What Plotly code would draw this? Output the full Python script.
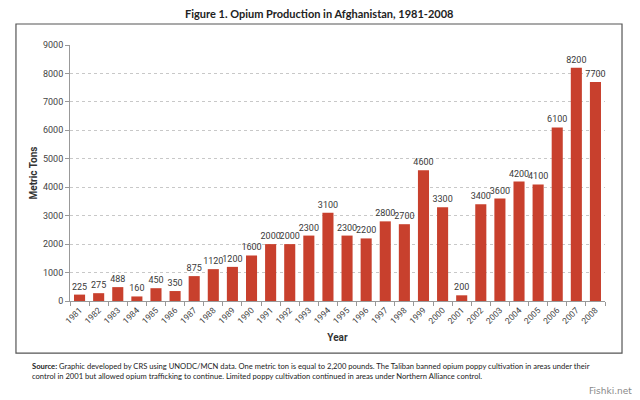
import plotly.graph_objects as go

years = [str(y) for y in range(1981, 2009)]
values = [225, 275, 488, 160, 450, 350, 875, 1120, 1200, 1600, 2000, 2000, 2300, 3100,
          2300, 2200, 2800, 2700, 4600, 3300, 200, 3400, 3600, 4200, 4100, 6100, 8200, 7700]
y_ticks = list(range(0, 9001, 1000))

title_text = "Figure 1. Opium Production in Afghanistan, 1981-2008"
source_text = ("<b>Source:</b> Graphic developed by CRS using UNODC/MCN data. One metric ton is equal to 2,200 pounds. "
               "The Taliban banned opium poppy cultivation in areas under their<br>control in 2001 but allowed opium "
               "trafficking to continue. Limited poppy cultivation continued in areas under Northern Alliance control.")

narrow = "Liberation Sans Narrow, Arial Narrow, Roboto, sans-serif"
gill = "Lato, Open Sans, sans-serif"

fig = go.Figure(go.Bar(
    x=years, y=values,
    marker=dict(color="#c8402d", line=dict(width=0)),
    text=[str(v) for v in values], textposition="outside",
    textfont=dict(family=narrow, size=9, color="#3a3a3a"),
    constraintext="none",
    cliponaxis=False,
))

fig.update_layout(
    width=632, height=392,
    margin=dict(l=62, r=35, t=37, b=99),
    paper_bgcolor="white", plot_bgcolor="white",
    bargap=0.42,
    showlegend=False,
    xaxis=dict(
        type="category", tickangle=-45, tickson="boundaries", automargin=False,
        ticks="outside", ticklen=4, tickcolor="#999",
        showline=True, linecolor="#999", linewidth=1,
        showgrid=False,
        tickfont=dict(family=narrow, size=8.5, color="#444"),
        title=dict(text="<b>Year</b>", font=dict(family=narrow, size=10, color="#333"), standoff=9),
    ),
    yaxis=dict(
        range=[0, 9000], tickvals=y_ticks, automargin=False,
        ticks="outside", ticklen=4, tickcolor="#999",
        showline=True, linecolor="#999", linewidth=1,
        showgrid=True, gridcolor="#c8c8c8", griddash="dot", gridwidth=1,
        zeroline=False,
        tickfont=dict(family=narrow, size=9, color="#444"),
        title=dict(text="<b>Metric Tons</b>", font=dict(family=narrow, size=10, color="#333"), standoff=3),
    ),
    shapes=[dict(type="rect", xref="paper", yref="paper",
                 x0=-0.101, x1=1.0318, y0=-0.2035, y1=1.082,
                 line=dict(color="#555", width=1.2), fillcolor="rgba(0,0,0,0)", layer="below")],
    annotations=[
        dict(text="<b>" + title_text + "</b>", xref="paper", yref="paper", x=0.4656, y=1.123,
             xanchor="center", yanchor="middle", showarrow=False,
             font=dict(family=gill, size=11, color="#222")),
        dict(text=source_text, xref="paper", yref="paper", x=-0.075, y=-0.225,
             xanchor="left", yanchor="top", align="left", showarrow=False,
             font=dict(family=gill, size=7.6, color="#222")),
        dict(text="Fishki.net", xref="paper", yref="paper", x=1.055, y=-0.35,
             xanchor="right", yanchor="middle", showarrow=False,
             font=dict(family="DejaVu Sans", size=9, color="#888")),
    ],
)

fig.write_html("out.html")
